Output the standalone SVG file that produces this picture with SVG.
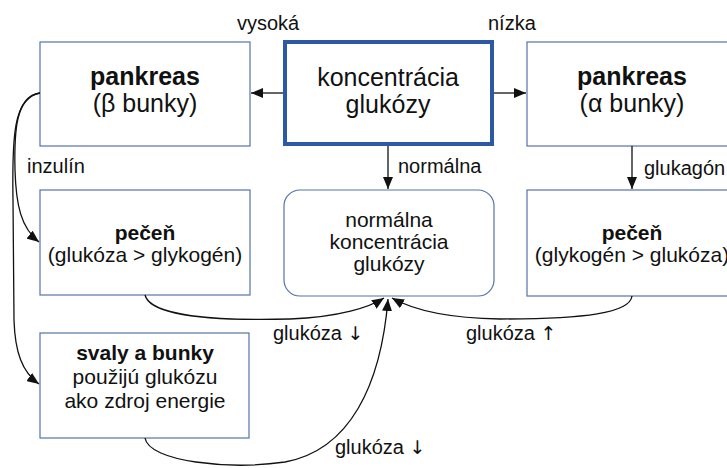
<svg xmlns="http://www.w3.org/2000/svg" width="727" height="468" viewBox="0 0 727 468">
<defs>
<style>
.box{fill:#fff;stroke:#5573a8;stroke-width:1.2}
.main{fill:#fff;stroke:#2c58a6;stroke-width:4}
text{font-family:"Liberation Sans",Arial,sans-serif;fill:#111;text-anchor:middle}
.big{font-size:25px}
.mid{font-size:21px}
.b{font-weight:bold}
.lbl{font-size:20px;text-anchor:start}
.ar{font-family:"DejaVu Sans",sans-serif;fill:#111;font-size:19px}
.c{fill:none;stroke:#111;stroke-width:1.3}
</style>
<marker id="ah" viewBox="0 0 12 10" refX="12" refY="5" markerWidth="12" markerHeight="10" markerUnits="userSpaceOnUse" orient="auto">
<path d="M0,0 L12,5 L0,10 Z" fill="#111"/>
</marker>
</defs>
<rect width="727" height="468" fill="#fff"/>

<g id="pankreas-beta">
<rect class="box" x="40" y="42" width="210" height="104"/>
<text class="big b" x="145" y="85">pankreas</text>
<text class="big" x="145" y="112">(β bunky)</text>
</g>

<g id="koncentracia">
<rect class="main" x="285" y="42" width="207" height="102"/>
<text class="big" x="388" y="86">koncentrácia</text>
<text class="big" x="388" y="113">glukózy</text>
</g>

<g id="pankreas-alfa">
<rect class="box" x="527" y="42" width="212" height="104"/>
<text class="big b" x="632" y="85">pankreas</text>
<text class="big" x="632" y="112">(α bunky)</text>
</g>

<g id="pecen-left">
<rect class="box" x="40" y="190" width="210" height="105"/>
<text class="mid b" x="145" y="240">pečeň</text>
<text class="mid" x="145" y="262">(glukóza &gt; glykogén)</text>
</g>

<g id="normalna">
<rect class="box" x="284" y="190" width="210" height="106" rx="16" ry="16"/>
<text class="mid" x="389" y="227">normálna</text>
<text class="mid" x="389" y="249">koncentrácia</text>
<text class="mid" x="389" y="271">glukózy</text>
</g>

<g id="pecen-right">
<rect class="box" x="527" y="190" width="212" height="106"/>
<text class="mid b" x="632" y="240">pečeň</text>
<text class="mid" x="632" y="262">(glykogén &gt; glukóza)</text>
</g>

<g id="svaly">
<rect class="box" x="40" y="333" width="209" height="105"/>
<text class="mid b" x="145" y="360">svaly a bunky</text>
<text class="mid" x="145" y="384">použijú glukózu</text>
<text class="mid" x="145" y="408">ako zdroj energie</text>
</g>

<g id="connectors">
<path class="c" d="M283,93 L251,93" marker-end="url(#ah)"/>
<path class="c" d="M494,93 L526,93" marker-end="url(#ah)"/>
<path class="c" d="M388,146 L388,189" marker-end="url(#ah)"/>
<path class="c" d="M632,146 L632,189" marker-end="url(#ah)"/>
<path class="c" d="M40,93 C16,97 14,130 15,170 C16,205 21,228 39,242" marker-end="url(#ah)"/>
<path class="c" d="M40,93 C13,96 12,140 13,200 L14,320 C15,352 22,372 39,384" marker-end="url(#ah)"/>
<path class="c" d="M145,295 C150,316 215,321 290,319 C340,317 370,307 384,298" marker-end="url(#ah)"/>
<path class="c" d="M632,296 C630,313 585,319 500,319 C440,318 408,307 392,298" marker-end="url(#ah)"/>
<path class="c" d="M145,438 C149,462 230,470 285,462 C350,450 381,385 388,299" marker-end="url(#ah)"/>
<text class="lbl" x="237" y="30">vysoká</text>
<text class="lbl" x="488" y="30">nízka</text>
<text class="lbl" x="398" y="173">normálna</text>
<text class="lbl" x="644" y="175">glukagón</text>
<text class="lbl" x="27" y="173">inzulín</text>
<text class="lbl" x="273" y="340">glukóza <tspan class="ar">↓</tspan></text>
<text class="lbl" x="466" y="340">glukóza <tspan class="ar">↑</tspan></text>
<text class="lbl" x="335" y="454">glukóza <tspan class="ar">↓</tspan></text>
</g>
</svg>
